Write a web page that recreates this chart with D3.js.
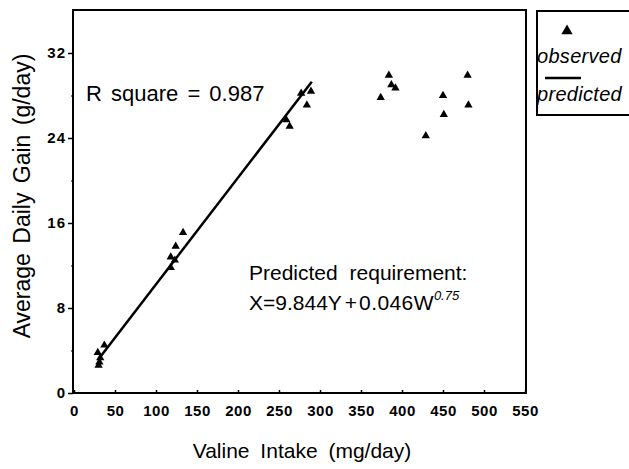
<!DOCTYPE html>
<html>
<head>
<meta charset="utf-8">
<script src="https://cdn.jsdelivr.net/npm/d3@7"></script>
<style>
  body { margin: 0; background: #fff; }
  text { font-family: "Liberation Sans", Arial, sans-serif; fill: #000; }
</style>
</head>
<body>
<svg id="chart" width="629" height="469"></svg>
<script>
// observed points (valine intake mg/day, average daily gain g/day)
const observedX = [29, 37, 32, 31, 30, 118, 123, 118, 124, 133, 259, 263, 277, 284, 289, 374, 384, 387, 392, 429, 450, 451, 480, 481];
const observedY = [3.8, 4.5, 3.3, 2.9, 2.6, 11.8, 12.5, 12.8, 13.8, 15.1, 25.7, 25.1, 28.2, 27.1, 28.4, 27.8, 29.9, 29.0, 28.7, 24.2, 28.0, 26.2, 29.9, 27.1];

// predicted regression line end points
const predictedX = [31, 290];
const predictedY = [3.3, 29.3];

const xTicks = d3.range(0, 551, 50);
const yTicks = [0, 8, 16, 24, 32];
const yMinorTicks = [4, 12, 20, 28];

const svg = d3.select("#chart");
const box = { left: 73, right: 526, top: 10, bottom: 393 };

const x = d3.scaleLinear().domain([0, 550]).range([74, 525]);
const y = d3.scaleLinear().domain([0, 36]).range([393, 10.5]);

// frame
svg.append("rect")
  .attr("x", box.left)
  .attr("y", box.top)
  .attr("width", box.right - box.left)
  .attr("height", box.bottom - box.top)
  .attr("fill", "none")
  .attr("stroke", "#000")
  .attr("stroke-width", 2);

// x axis (ticks point inward)
const xAxis = svg.append("g")
  .attr("transform", `translate(0,${box.bottom})`)
  .call(d3.axisBottom(x).tickValues(xTicks).tickSizeInner(-3).tickSizeOuter(0).tickPadding(12));
xAxis.select(".domain").remove();
xAxis.selectAll("line").attr("stroke-width", 1.5);
xAxis.selectAll("text")
  .attr("font-size", "15px")
  .attr("font-weight", "bold")
  .attr("letter-spacing", "0.5px")
  .attr("font-family", "Liberation Sans, Arial, sans-serif");

// y axis
const yAxis = svg.append("g")
  .attr("transform", `translate(${box.left},0)`)
  .call(d3.axisLeft(y).tickValues(yTicks).tickSize(5).tickPadding(2));
yAxis.select(".domain").remove();
yAxis.selectAll("line").attr("stroke-width", 1.5);
yAxis.selectAll("text")
  .attr("font-size", "15px")
  .attr("font-weight", "bold")
  .attr("letter-spacing", "1px")
  .attr("font-family", "Liberation Sans, Arial, sans-serif");

svg.append("g")
  .attr("transform", `translate(${box.left},0)`)
  .call(d3.axisLeft(y).tickValues(yMinorTicks).tickSize(2).tickFormat(""))
  .select(".domain").remove();

// predicted line
const line = d3.line()
  .x(d => x(d[0]))
  .y(d => y(d[1]));

svg.append("path")
  .datum(d3.zip(predictedX, predictedY))
  .attr("d", line)
  .attr("fill", "none")
  .attr("stroke", "#000")
  .attr("stroke-width", 2.5);

// observed triangles
const tri = d3.symbol().type(d3.symbolTriangle).size(30);
svg.selectAll(".obs")
  .data(d3.zip(observedX, observedY))
  .enter().append("path")
  .attr("class", "obs")
  .attr("transform", d => `translate(${x(d[0])},${y(d[1])})`)
  .attr("d", tri)
  .attr("fill", "#000");

// annotations
svg.append("text")
  .attr("x", 86)
  .attr("y", 101)
  .attr("font-size", "22px")
  .attr("word-spacing", "3px")
  .text("R square = 0.987");

svg.append("text")
  .attr("x", 249)
  .attr("y", 280)
  .attr("font-size", "21px")
  .attr("word-spacing", "6px")
  .text("Predicted requirement:");

const eq = svg.append("text")
  .attr("x", 249)
  .attr("y", 310)
  .attr("font-size", "21px");
eq.append("tspan").text("X=9.844Y");
eq.append("tspan").attr("dx", 3).text("+");
eq.append("tspan").attr("dx", 2).attr("letter-spacing", "0.4px").text("0.046W");
eq.append("tspan").attr("dy", -10).attr("font-size", "13px").attr("font-style", "italic").text("0.75");

// axis titles
svg.append("text")
  .attr("x", 302)
  .attr("y", 458)
  .attr("text-anchor", "middle")
  .attr("font-size", "21px")
  .attr("word-spacing", "5px")
  .text("Valine Intake (mg/day)");

svg.append("text")
  .attr("transform", "rotate(-90)")
  .attr("x", -196)
  .attr("y", 30)
  .attr("text-anchor", "middle")
  .attr("font-size", "23px")
  .attr("word-spacing", "3px")
  .text("Average Daily Gain (g/day)");

// legend
svg.append("rect")
  .attr("x", 537)
  .attr("y", 11)
  .attr("width", 100)
  .attr("height", 104)
  .attr("fill", "none")
  .attr("stroke", "#000")
  .attr("stroke-width", 2);

svg.append("path")
  .attr("transform", "translate(567,31)")
  .attr("d", d3.symbol().type(d3.symbolTriangle).size(55))
  .attr("fill", "#000");

svg.append("text")
  .attr("x", 537)
  .attr("y", 63)
  .attr("font-size", "20px")
  .attr("letter-spacing", "0.3px")
  .attr("font-style", "italic")
  .text("observed");

svg.append("line")
  .attr("x1", 545)
  .attr("x2", 581)
  .attr("y1", 78)
  .attr("y2", 78)
  .attr("stroke", "#000")
  .attr("stroke-width", 2.5);

svg.append("text")
  .attr("x", 537)
  .attr("y", 101)
  .attr("font-size", "20px")
  .attr("letter-spacing", "0.3px")
  .attr("font-style", "italic")
  .text("predicted");
</script>
</body>
</html>
